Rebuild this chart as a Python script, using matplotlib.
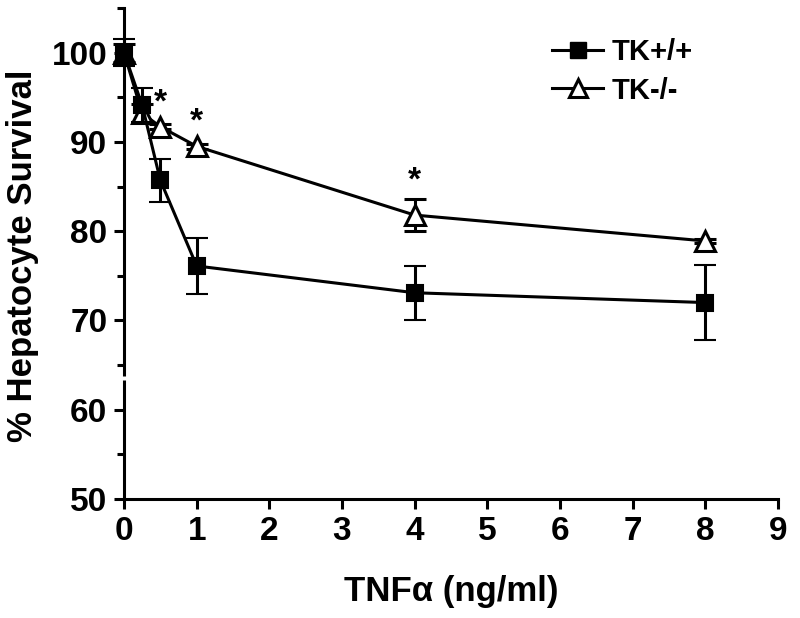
import matplotlib
matplotlib.use("Agg")
import matplotlib.pyplot as plt
from matplotlib.lines import Line2D
from matplotlib.ticker import MultipleLocator

plt.rcParams['font.family'] = ['Liberation Sans', 'DejaVu Sans']
plt.rcParams['font.weight'] = 'bold'

tnf = [0, 0.25, 0.5, 1, 4, 8]

wt_mean = [100, 94.1, 85.7, 76.1, 73.1, 72.0]
wt_err = [1.5, 1.9, 2.4, 3.1, 3.0, 4.2]

ko_mean = [100, 93.2, 91.7, 89.5, 81.8, 78.9]
ko_err = [1.0, 1.0, 0.3, 0.3, 1.8, 0.2]

star_x = [0.5, 1, 4]
star_y = [94.4, 92.2, 85.6]

fig = plt.figure(figsize=(8, 6.18), dpi=100)
ax = fig.add_axes([0.155, 0.1926, 0.8175, 0.7945])

lw = 2.2
ax.errorbar(tnf, ko_mean, yerr=ko_err, color='black', lw=lw, marker='^',
            markersize=15, markerfacecolor='white', markeredgewidth=2.2,
            capsize=8, capthick=lw, elinewidth=lw,
            clip_on=False, zorder=3)
ax.errorbar(tnf, wt_mean, yerr=wt_err, color='black', lw=lw, marker='s',
            markersize=11, markerfacecolor='black', markeredgewidth=1.5,
            capsize=8, capthick=lw, elinewidth=lw,
            clip_on=False, zorder=4)

for x, y in zip(star_x, star_y):
    ax.text(x, y, '*', ha='center', va='center', fontsize=24, fontweight='bold')

ax.set_xlim(0, 9)
ax.set_ylim(50, 105)
ax.xaxis.set_major_locator(MultipleLocator(1))
ax.yaxis.set_minor_locator(MultipleLocator(5))
ax.set_yticks([50, 60, 70, 80, 90, 100])

for s in ['top', 'right']:
    ax.spines[s].set_visible(False)
for s in ['left', 'bottom']:
    ax.spines[s].set_linewidth(lw)

ax.tick_params(axis='both', which='major', width=lw, length=7, labelsize=24, pad=5)
ax.tick_params(axis='y', which='minor', width=lw, length=5)

# axis break on the y spine
ax.plot([0, 0], [63.3, 63.8], color='white', lw=5, transform=ax.get_yaxis_transform(),
        clip_on=False, zorder=5, solid_capstyle='butt')

ax.set_xlabel('TNF\u03b1 (ng/ml)', fontsize=25, fontweight='bold')
ax.xaxis.set_label_coords(0.5, -0.155)
ax.set_ylabel('% Hepatocyte Survival', fontsize=25, fontweight='bold')
ax.yaxis.set_label_coords(-0.13, 0.495)

handles = [
    Line2D([], [], color='black', lw=lw, marker='s', markersize=11,
           markerfacecolor='black'),
    Line2D([], [], color='black', lw=lw, marker='^', markersize=13,
           markerfacecolor='white', markeredgewidth=2.2),
]
fig.legend(handles, ['TK+/+', 'TK-/-'], loc='upper left',
           bbox_to_anchor=(0.69, 0.938), bbox_transform=fig.transFigure,
           frameon=False, fontsize=21, handlelength=1.75, handletextpad=0.3,
           labelspacing=0.35, borderpad=0, borderaxespad=0)

fig.savefig('out.png', dpi=100)
